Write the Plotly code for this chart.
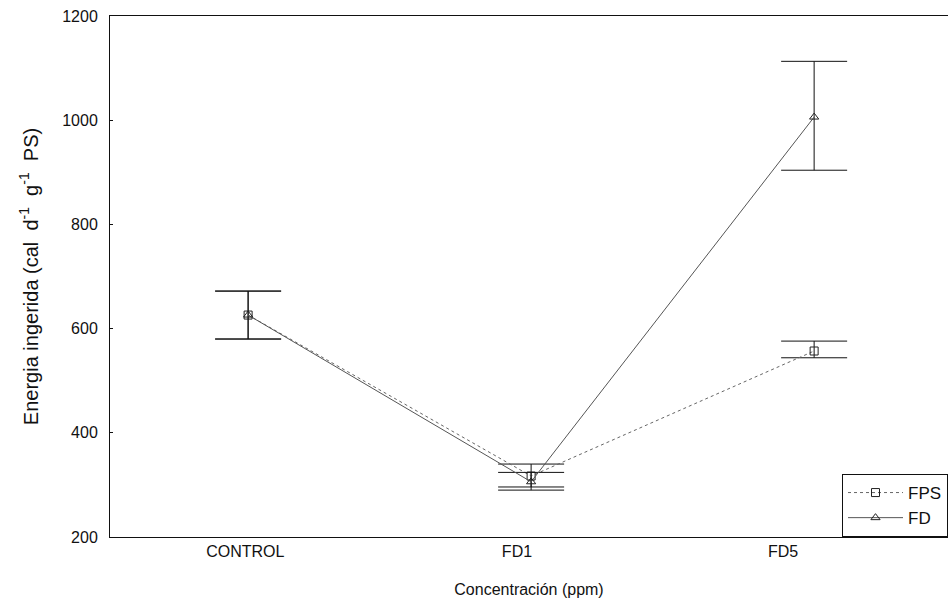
import plotly.graph_objects as go

categories = ["CONTROL", "FD1", "FD5"]
fps_mean = [626, 317, 557]
fps_err_plus = [46, 23, 19]
fps_err_minus = [46, 21, 13]
fd_mean = [626, 306, 1006]
fd_err_plus = [46, 18, 107]
fd_err_minus = [46, 16, 102]
y_ticks = [200, 400, 600, 800, 1000, 1200]

x_idx = list(range(len(categories)))
# tick labels in the original sit slightly left of the plotted points
label_pos = [-0.01, 0.95, 1.89]

fig = go.Figure()
fig.add_trace(go.Scatter(
    x=x_idx, y=fps_mean, name="FPS", mode="lines+markers",
    line=dict(color="#666666", width=1, dash="dot"),
    marker=dict(symbol="square-open", size=8, color="#222222", line=dict(width=1)),
    error_y=dict(type="data", array=fps_err_plus, arrayminus=fps_err_minus,
                 color="#111111", thickness=1, width=33),
))
fig.add_trace(go.Scatter(
    x=x_idx, y=fd_mean, name="FD", mode="lines+markers",
    line=dict(color="#555555", width=1),
    marker=dict(symbol="triangle-up-open", size=8, color="#222222", line=dict(width=1)),
    error_y=dict(type="data", array=fd_err_plus, arrayminus=fd_err_minus,
                 color="#111111", thickness=1, width=33),
))

font_family = "Liberation Sans, Arial, sans-serif"
fig.update_layout(
    width=948, height=609,
    margin=dict(l=110, r=0, t=16, b=72),
    paper_bgcolor="white", plot_bgcolor="white",
    font=dict(family=font_family, size=14, color="#111111"),
    showlegend=True,
    legend=dict(x=1, y=0, xanchor="right", yanchor="bottom",
                bordercolor="#111111", borderwidth=1, bgcolor="white",
                font=dict(size=17), tracegroupgap=0, itemwidth=55),
    xaxis=dict(
        range=[-0.488, 2.473], tickvals=label_pos, ticktext=categories,
        tickfont=dict(size=16),
        showgrid=False, zeroline=False, showline=True, linecolor="#111111",
        linewidth=1, mirror=True, ticks="",
        title=dict(text="Concentración (ppm)", standoff=24, font=dict(size=16)),
    ),
    yaxis=dict(
        range=[200, 1200], tickvals=y_ticks,
        tickfont=dict(size=16), ticklabelstandoff=8,
        showgrid=False, zeroline=False, showline=True, linecolor="#111111",
        linewidth=1, ticks="inside", ticklen=3, tickcolor="#111111",
        title=dict(text="Energia ingerida (cal  d<sup>-1</sup>  g<sup>-1</sup>  PS)",
                   standoff=18, font=dict(size=20)),
    ),
)

fig.write_html("out.html")
